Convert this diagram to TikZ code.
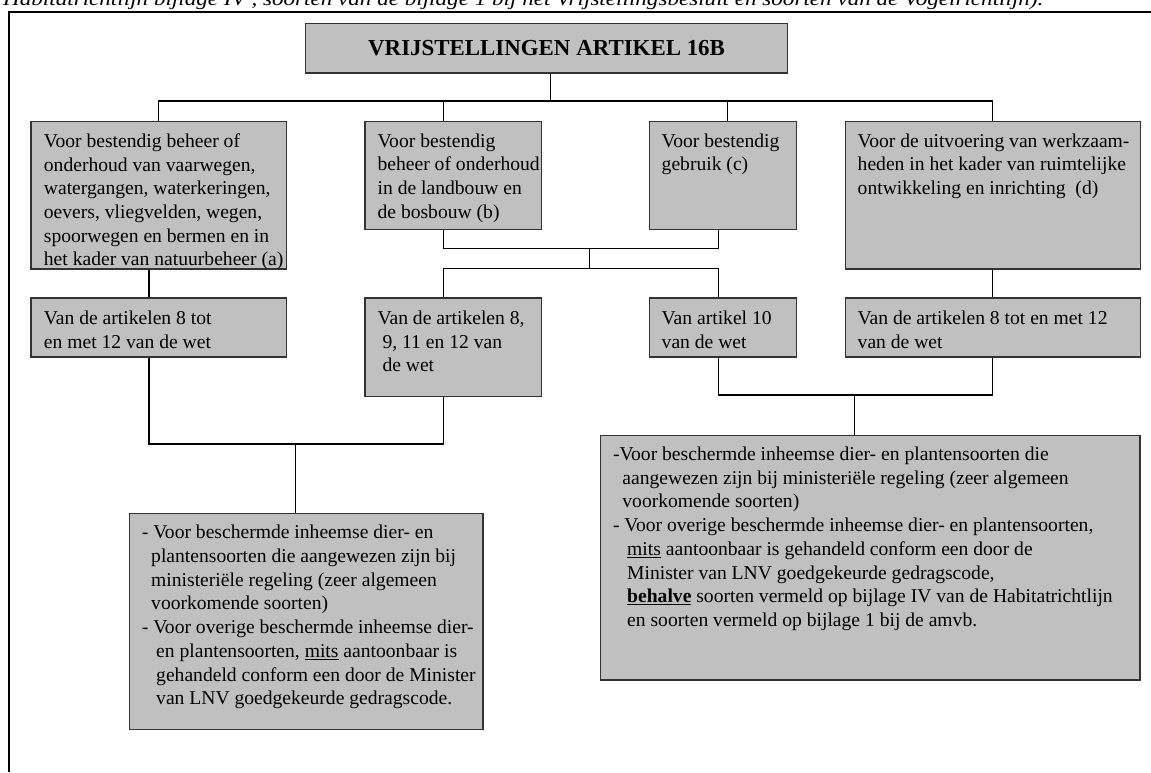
\documentclass[tikz,border=0pt]{standalone}
\usepackage{fontspec}
\setmainfont{Liberation Serif}
\usepackage{graphicx}
\usetikzlibrary{positioning}
\definecolor{boxgray}{HTML}{C0C0C0}
\tikzstyle{gbox} = [rectangle, draw=black!80, fill=boxgray, line width=1.2pt, anchor=north west, inner sep=0pt]
\tikzstyle{txt} = [anchor=north west, inner sep=0pt, align=left, font=\fontsize{19.6}{23.7}\selectfont]
\tikzstyle{line} = [draw, line width=1.2pt]
\tikzstyle{frame} = [draw, line width=2pt]

\begin{document}
\begin{tikzpicture}[x=1pt, y=-1pt]
	\useasboundingbox (0,0) rectangle (1151,772);
	\fill[white] (0,0) rectangle (1151,772);

	% caption fragment, cut at the top edge
	\begin{scope}
		\clip (0,0) rectangle (1151,772);
		\node [anchor=base west, inner sep=0pt, font=\fontsize{19.6}{23.7}\selectfont] (cap) at (3,5) {\resizebox{1040pt}{\height}{\itshape Habitatrichtlijn bijlage IV , soorten van de bijlage 1 bij het Vrijstellingsbesluit en soorten van de Vogelrichtlijn).}};
	\end{scope}
	\path [frame] (9.2,772) -- (9.2,12) -- (1151,12);

	% title
	\node [gbox, minimum width=482, minimum height=49.6, font=\fontsize{22.9}{27}\selectfont\bfseries] (title) at (305,22.7) {VRIJSTELLINGEN ARTIKEL 16B};

	% first row
	\node [gbox, minimum width=255.7, minimum height=147.6] (a) at (30.3,120.7) {};
	\node [gbox, minimum width=176.8, minimum height=108.3] (b) at (364.4,120.7) {};
	\node [gbox, minimum width=147.5, minimum height=108.3] (c) at (648.5,120.7) {};
	\node [gbox, minimum width=295, minimum height=147.6] (d) at (844.5,120.7) {};
	\node [txt] (at) at ([shift={(13.4,12.6)}]a.north west) {Voor bestendig beheer of\\onderhoud van vaarwegen,\\watergangen, waterkeringen,\\oevers, vliegvelden, wegen,\\spoorwegen en bermen en in\\het kader van natuurbeheer (a)};
	\node [txt] (bt) at ([shift={(13,12.6)}]b.north west) {Voor bestendig\\beheer of onderhoud\\in de landbouw en\\de bosbouw (b)};
	\node [txt] (ct) at ([shift={(13,12.6)}]c.north west) {Voor bestendig\\gebruik (c)};
	\node [txt] (dt) at ([shift={(13,12.6)}]d.north west) {Voor de uitvoering van werkzaam-\\heden in het kader van ruimtelijke\\ontwikkeling en inrichting \ (d)};

	% second row
	\node [gbox, minimum width=255.7, minimum height=59] (a2) at (30.3,297.3) {};
	\node [gbox, minimum width=176.8, minimum height=98.4] (b2) at (364.4,297.3) {};
	\node [gbox, minimum width=147.5, minimum height=59] (c2) at (648.5,297.3) {};
	\node [gbox, minimum width=295, minimum height=59] (d2) at (844.5,297.3) {};
	\node [txt] (a2t) at ([shift={(13.4,13.2)}]a2.north west) {Van de artikelen 8 tot\\en met 12 van de wet};
	\node [txt] (b2t) at ([shift={(13,13.2)}]b2.north west) {Van de artikelen 8,\\\ 9, 11 en 12 van\\\ de wet};
	\node [txt] (c2t) at ([shift={(13,13.2)}]c2.north west) {Van artikel 10\\van de wet};
	\node [txt] (d2t) at ([shift={(13,13.2)}]d2.north west) {Van de artikelen 8 tot en met 12\\van de wet};

	% result boxes
	\node [gbox, minimum width=353.3, minimum height=216.3] (e) at (129,512.7) {};
	\node [gbox, minimum width=539.7, minimum height=244.6] (f) at (599.6,434.7) {};
	\node [txt] (et) at ([shift={(12.7,12.3)}]e.north west) {- Voor beschermde inheemse dier- en\\
		\hspace*{9.3pt}plantensoorten die aangewezen zijn bij\\
		\hspace*{9.3pt}ministeriële regeling (zeer algemeen\\
		\hspace*{9.3pt}voorkomende soorten)\\
		- Voor overige beschermde inheemse dier-\\
		\hspace*{14.3pt}en plantensoorten, \underline{mits} aantoonbaar is\\
		\hspace*{14.3pt}gehandeld conform een door de Minister\\
		\hspace*{14.3pt}van LNV goedgekeurde gedragscode.};
	\node [txt] (ft) at ([shift={(13.2,12)}]f.north west) {-Voor beschermde inheemse dier- en plantensoorten die\\
		\hspace*{9.4pt}aangewezen zijn bij ministeriële regeling (zeer algemeen\\
		\hspace*{9.4pt}voorkomende soorten)\\
		- Voor overige beschermde inheemse dier- en plantensoorten,\\
		\hspace*{14.2pt}\underline{mits} aantoonbaar is gehandeld conform een door de\\
		\hspace*{14.2pt}Minister van LNV goedgekeurde gedragscode,\\
		\hspace*{14.2pt}\underline{\textbf{behalve}} soorten vermeld op bijlage IV van de Habitatrichtlijn\\
		\hspace*{14.2pt}en soorten vermeld op bijlage 1 bij de amvb.};

	% junctions
	\coordinate (j0) at (550.5,101);
	\coordinate (j1) at (589.6,248.3);
	\coordinate (j2) at (589.6,268.3);
	\coordinate (j3) at (295.2,444);
	\coordinate (j4) at (854.5,395);

	\path [line] (title.south -| j0) -- (j0);
	\path [line] (a.north) |- (j0) -| (d.north);
	\path [line] ([xshift=-10]b.north) -- ([xshift=-10]b.north |- j0);
	\path [line] ([xshift=4.75]c.north) -- ([xshift=4.75]c.north |- j0);

	\path [line] ([xshift=-10]b.south) |- (j1) -| ([xshift=-4.75]c.south);
	\path [line] (j1) -- (j2);
	\path [line] ([xshift=-10]b2.north) |- (j2) -| ([xshift=-4.75]c2.north);
	\path [line] ([xshift=-9.75]a.south) -- ([xshift=-9.75]a2.north);
	\path [line] (d.south) -- (d2.north);

	\path [line] ([xshift=-9.75]a2.south) |- (j3) -| ([xshift=-10]b2.south);
	\path [line] (j3) -- (j3 |- e.north);
	\path [line] ([xshift=-4.75]c2.south) |- (j4) -| (d2.south);
	\path [line] (j4) -- (j4 |- f.north);
\end{tikzpicture}
\end{document}
